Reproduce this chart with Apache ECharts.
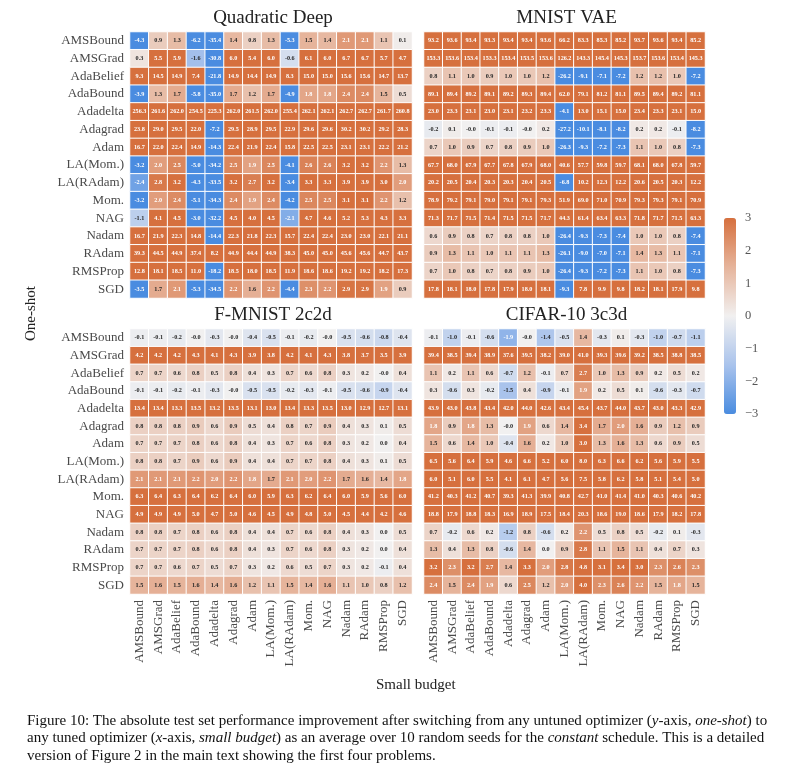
<!DOCTYPE html>
<html><head><meta charset="utf-8">
<script src="https://cdn.jsdelivr.net/npm/echarts@6/dist/echarts.min.js"></script>
<style>html,body{margin:0;padding:0;background:#fff}#c{width:793px;height:784px}</style>
</head><body><div id="c"></div><script>
const optimizers = ['AMSBound','AMSGrad','AdaBelief','AdaBound','Adadelta','Adagrad','Adam','LA(Mom.)','LA(RAdam)','Mom.','NAG','Nadam','RAdam','RMSProp','SGD'];
const panelTitles = ['Quadratic Deep','MNIST VAE','F-MNIST 2c2d','CIFAR-10 3c3d'];
const colorbarMin = -3, colorbarMax = 3, colorbarStep = 1;

// rows: untuned optimizer (one-shot), columns: tuned optimizer (small budget)
const quadraticDeep = [
[-4.3,0.9,1.3,-6.2,-35.4,1.4,0.8,1.3,-5.3,1.5,1.4,2.1,2.1,1.1,0.1],
[0.3,5.5,5.9,-1.6,-30.8,6.0,5.4,6.0,-0.6,6.1,6.0,6.7,6.7,5.7,4.7],
[9.3,14.5,14.9,7.4,-21.8,14.9,14.4,14.9,8.3,15.0,15.0,15.6,15.6,14.7,13.7],
[-3.9,1.3,1.7,-5.8,-35.0,1.7,1.2,1.7,-4.9,1.8,1.8,2.4,2.4,1.5,0.5],
[256.3,261.6,262.0,254.5,225.3,262.0,261.5,262.0,255.4,262.1,262.1,262.7,262.7,261.7,260.8],
[23.8,29.0,29.5,22.0,-7.2,29.5,28.9,29.5,22.9,29.6,29.6,30.2,30.2,29.2,28.3],
[16.7,22.0,22.4,14.9,-14.3,22.4,21.9,22.4,15.8,22.5,22.5,23.1,23.1,22.2,21.2],
[-3.2,2.0,2.5,-5.0,-34.2,2.5,1.9,2.5,-4.1,2.6,2.6,3.2,3.2,2.2,1.3],
[-2.4,2.8,3.2,-4.3,-33.5,3.2,2.7,3.2,-3.4,3.3,3.3,3.9,3.9,3.0,2.0],
[-3.2,2.0,2.4,-5.1,-34.3,2.4,1.9,2.4,-4.2,2.5,2.5,3.1,3.1,2.2,1.2],
[-1.1,4.1,4.5,-3.0,-32.2,4.5,4.0,4.5,-2.1,4.7,4.6,5.2,5.3,4.3,3.3],
[16.7,21.9,22.3,14.8,-14.4,22.3,21.8,22.3,15.7,22.4,22.4,23.0,23.0,22.1,21.1],
[39.3,44.5,44.9,37.4,8.2,44.9,44.4,44.9,38.3,45.0,45.0,45.6,45.6,44.7,43.7],
[12.8,18.1,18.5,11.0,-18.2,18.5,18.0,18.5,11.9,18.6,18.6,19.2,19.2,18.2,17.3],
[-3.5,1.7,2.1,-5.3,-34.5,2.2,1.6,2.2,-4.4,2.3,2.2,2.9,2.9,1.9,0.9]
];
const mnistVae = [
[93.2,93.6,93.4,93.3,93.4,93.4,93.6,66.2,83.3,85.3,85.2,93.7,93.6,93.4,85.2],
[153.3,153.6,153.4,153.3,153.4,153.5,153.6,126.2,143.3,145.4,145.3,153.7,153.6,153.4,145.3],
[0.8,1.1,1.0,0.9,1.0,1.0,1.2,-26.2,-9.1,-7.1,-7.2,1.2,1.2,1.0,-7.2],
[89.1,89.4,89.2,89.1,89.2,89.3,89.4,62.0,79.1,81.2,81.1,89.5,89.4,89.2,81.1],
[23.0,23.3,23.1,23.0,23.1,23.2,23.3,-4.1,13.0,15.1,15.0,23.4,23.3,23.1,15.0],
[-0.2,0.1,-0.0,-0.1,-0.1,-0.0,0.2,-27.2,-10.1,-8.1,-8.2,0.2,0.2,-0.1,-8.2],
[0.7,1.0,0.9,0.7,0.8,0.9,1.0,-26.3,-9.3,-7.2,-7.3,1.1,1.0,0.8,-7.3],
[67.7,68.0,67.9,67.7,67.8,67.9,68.0,40.6,57.7,59.8,59.7,68.1,68.0,67.8,59.7],
[20.2,20.5,20.4,20.3,20.3,20.4,20.5,-6.8,10.2,12.3,12.2,20.6,20.5,20.3,12.2],
[78.9,79.2,79.1,79.0,79.1,79.1,79.3,51.9,69.0,71.0,70.9,79.3,79.3,79.1,70.9],
[71.3,71.7,71.5,71.4,71.5,71.5,71.7,44.3,61.4,63.4,63.3,71.8,71.7,71.5,63.3],
[0.6,0.9,0.8,0.7,0.8,0.8,1.0,-26.4,-9.3,-7.3,-7.4,1.0,1.0,0.8,-7.4],
[0.9,1.3,1.1,1.0,1.1,1.1,1.3,-26.1,-9.0,-7.0,-7.1,1.4,1.3,1.1,-7.1],
[0.7,1.0,0.8,0.7,0.8,0.9,1.0,-26.4,-9.3,-7.2,-7.3,1.1,1.0,0.8,-7.3],
[17.8,18.1,18.0,17.8,17.9,18.0,18.1,-9.3,7.8,9.9,9.8,18.2,18.1,17.9,9.8]
];
const fmnist2c2d = [
[-0.1,-0.1,-0.2,-0.0,-0.3,-0.0,-0.4,-0.5,-0.1,-0.2,-0.0,-0.5,-0.6,-0.8,-0.4],
[4.2,4.2,4.2,4.3,4.1,4.3,3.9,3.8,4.2,4.1,4.3,3.8,3.7,3.5,3.9],
[0.7,0.7,0.6,0.8,0.5,0.8,0.4,0.3,0.7,0.6,0.8,0.3,0.2,-0.0,0.4],
[-0.1,-0.1,-0.2,-0.1,-0.3,-0.0,-0.5,-0.5,-0.2,-0.3,-0.1,-0.5,-0.6,-0.9,-0.4],
[13.4,13.4,13.3,13.5,13.2,13.5,13.1,13.0,13.4,13.3,13.5,13.0,12.9,12.7,13.1],
[0.8,0.8,0.8,0.9,0.6,0.9,0.5,0.4,0.8,0.7,0.9,0.4,0.3,0.1,0.5],
[0.7,0.7,0.7,0.8,0.6,0.8,0.4,0.3,0.7,0.6,0.8,0.3,0.2,0.0,0.4],
[0.8,0.8,0.7,0.9,0.6,0.9,0.4,0.4,0.7,0.7,0.8,0.4,0.3,0.1,0.5],
[2.1,2.1,2.1,2.2,2.0,2.2,1.8,1.7,2.1,2.0,2.2,1.7,1.6,1.4,1.8],
[6.3,6.4,6.3,6.4,6.2,6.4,6.0,5.9,6.3,6.2,6.4,6.0,5.9,5.6,6.0],
[4.9,4.9,4.9,5.0,4.7,5.0,4.6,4.5,4.9,4.8,5.0,4.5,4.4,4.2,4.6],
[0.8,0.8,0.7,0.8,0.6,0.8,0.4,0.4,0.7,0.6,0.8,0.4,0.3,0.0,0.5],
[0.7,0.7,0.7,0.8,0.6,0.8,0.4,0.3,0.7,0.6,0.8,0.3,0.2,0.0,0.4],
[0.7,0.7,0.6,0.7,0.5,0.7,0.3,0.2,0.6,0.5,0.7,0.3,0.2,-0.1,0.4],
[1.5,1.6,1.5,1.6,1.4,1.6,1.2,1.1,1.5,1.4,1.6,1.1,1.0,0.8,1.2]
];
const cifar3c3d = [
[-0.1,-1.0,-0.1,-0.6,-1.9,-0.0,-1.4,-0.5,1.4,-0.3,0.1,-0.3,-1.0,-0.7,-1.1],
[39.4,38.5,39.4,38.9,37.6,39.5,38.2,39.0,41.0,39.3,39.6,39.2,38.5,38.8,38.5],
[1.1,0.2,1.1,0.6,-0.7,1.2,-0.1,0.7,2.7,1.0,1.3,0.9,0.2,0.5,0.2],
[0.3,-0.6,0.3,-0.2,-1.5,0.4,-0.9,-0.1,1.9,0.2,0.5,0.1,-0.6,-0.3,-0.7],
[43.9,43.0,43.8,43.4,42.0,44.0,42.6,43.4,45.4,43.7,44.0,43.7,43.0,43.3,42.9],
[1.8,0.9,1.8,1.3,-0.0,1.9,0.6,1.4,3.4,1.7,2.0,1.6,0.9,1.2,0.9],
[1.5,0.6,1.4,1.0,-0.4,1.6,0.2,1.0,3.0,1.3,1.6,1.3,0.6,0.9,0.5],
[6.5,5.6,6.4,5.9,4.6,6.6,5.2,6.0,8.0,6.3,6.6,6.2,5.6,5.9,5.5],
[6.0,5.1,6.0,5.5,4.1,6.1,4.7,5.6,7.5,5.8,6.2,5.8,5.1,5.4,5.0],
[41.2,40.3,41.2,40.7,39.3,41.3,39.9,40.8,42.7,41.0,41.4,41.0,40.3,40.6,40.2],
[18.8,17.9,18.8,18.3,16.9,18.9,17.5,18.4,20.3,18.6,19.0,18.6,17.9,18.2,17.8],
[0.7,-0.2,0.6,0.2,-1.2,0.8,-0.6,0.2,2.2,0.5,0.8,0.5,-0.2,0.1,-0.3],
[1.3,0.4,1.3,0.8,-0.6,1.4,0.0,0.9,2.8,1.1,1.5,1.1,0.4,0.7,0.3],
[3.2,2.3,3.2,2.7,1.4,3.3,2.0,2.8,4.8,3.1,3.4,3.0,2.3,2.6,2.3],
[2.4,1.5,2.4,1.9,0.6,2.5,1.2,2.0,4.0,2.3,2.6,2.2,1.5,1.8,1.5]
];
const panels = [quadraticDeep, mnistVae, fmnist2c2d, cifar3c3d];

const SERIF = "'Liberation Serif','DejaVu Serif',serif";
const layout = [
  {left:130, top:32, width:282, height:266, titleTop:4},
  {left:424, top:32, width:281, height:266, titleTop:4},
  {left:130, top:329, width:282, height:265, titleTop:301},
  {left:424, top:329, width:281, height:265, titleTop:301}
];
function fmt(v){ return Object.is(v,-0) ? '-0.0' : v.toFixed(1); }

const grids=[], xAxes=[], yAxes=[], series=[], titles=[];
panels.forEach((mat,p)=>{
  const L = layout[p];
  grids.push({left:L.left, top:L.top, width:L.width, height:L.height});
  titles.push({text:panelTitles[p], left:L.left+L.width/2 - 3, top:L.titleTop, textAlign:'center',
    textStyle:{fontFamily:SERIF, fontSize:19, fontWeight:'normal', color:'#222'}});
  xAxes.push({type:'category', gridIndex:p, data:optimizers, position:'bottom',
    axisLine:{show:false}, axisTick:{show:false}, splitLine:{show:false},
    axisLabel:{show:p>=2, rotate:90, margin:6, interval:0, fontFamily:SERIF, fontSize:13, color:'#4a4a4a'}});
  yAxes.push({type:'category', gridIndex:p, data:optimizers, inverse:true,
    axisLine:{show:false}, axisTick:{show:false}, splitLine:{show:false},
    axisLabel:{show:p%2===0, margin:6, interval:0, fontFamily:SERIF, fontSize:13, color:'#4a4a4a'}});
  const data=[];
  mat.forEach((row,r)=>row.forEach((v,c)=>{
    data.push({value:[c,r,v], label:{color: Math.abs(v)>=1.8 ? '#ffffff' : '#262626'}});
  }));
  series.push({type:'heatmap', xAxisIndex:p, yAxisIndex:p, data,
    itemStyle:{borderColor:'#ffffff', borderWidth:1},
    label:{show:true, fontFamily:SERIF, fontSize:6.2, fontWeight:'bold',
      formatter:(pr)=>fmt(pr.value[2])},
    emphasis:{disabled:true}});
});

// colorbar axis
grids.push({left:724, top:218, width:12, height:196});
xAxes.push({type:'value', gridIndex:4, show:false, min:0, max:1});
yAxes.push({type:'value', gridIndex:4, position:'right', min:colorbarMin, max:colorbarMax, interval:colorbarStep,
  axisLine:{show:false}, splitLine:{show:false}, axisTick:{show:false},
  axisLabel:{margin:9, fontFamily:SERIF, fontSize:12.5, color:'#555',
    formatter:(v)=>String(v).replace('-','\u2212')}});

const chart = echarts.init(document.getElementById('c'), null, {renderer:'canvas'});
chart.setOption({
  animation:false,
  backgroundColor:'#ffffff',
  title: titles,
  grid: grids, xAxis: xAxes, yAxis: yAxes, series,
  visualMap:{type:'continuous', min:colorbarMin, max:colorbarMax, calculable:false, seriesIndex:[0,1,2,3], dimension:2,
    orient:'vertical', left:724, top:218, itemWidth:12, itemHeight:196, padding:0, text:null, showLabel:false,
    inRange:{color:['#4a8ce0','#a9c3ec','#f1f0f0','#e6b49b','#d6703e']}},
  graphic:[
    {type:'text', left:24, top:286, rotation:Math.PI/2, style:{text:'One-shot', font:"15px 'Liberation Serif'", fill:'#222'}},
    {type:'text', left:376, top:678, style:{text:'Small budget', font:"15px 'Liberation Serif'", fill:'#222'}},
    {type:'text', left:27, top:712, style:{
      text:'Figure 10: The absolute test set performance improvement after switching from any untuned optimizer ({i|y}-axis, {i|one-shot}) to\nany tuned optimizer ({i|x}-axis, {i|small budget}) as an average over 10 random seeds for the {i|constant} schedule. This is a detailed\nversion of Figure 2 in the main text showing the first four problems.',
      font:"15px 'Liberation Serif'", fill:'#111', lineHeight:17.5,
      rich:{i:{fontStyle:'italic', fontFamily:'Liberation Serif', fontSize:15, lineHeight:17.5}}}}
  ]
});
</script></body></html>
